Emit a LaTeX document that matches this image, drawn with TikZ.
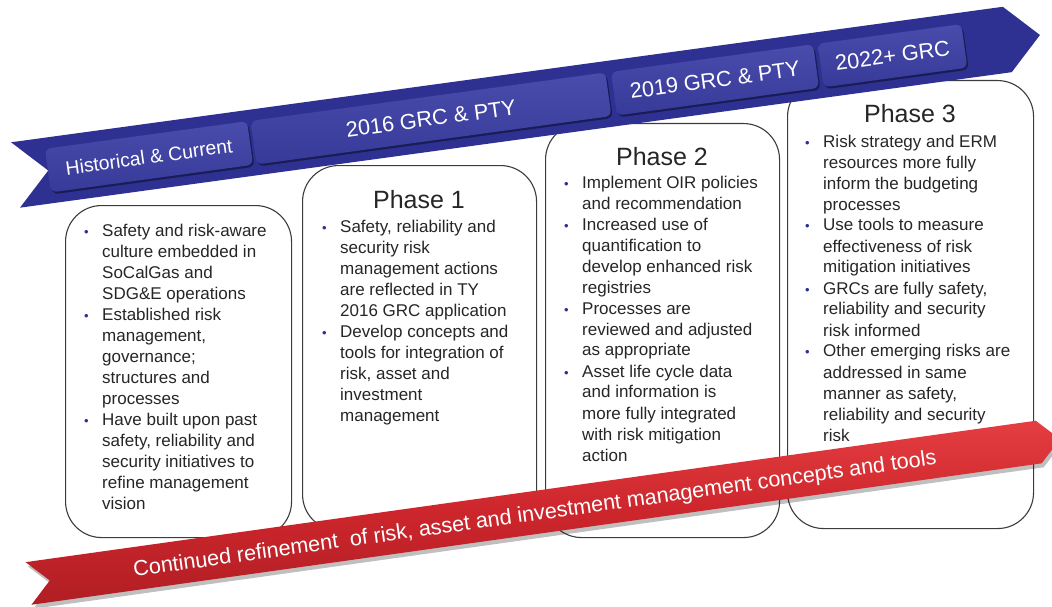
\documentclass[tikz,border=0pt]{standalone}
\usepackage{fontspec}
\setmainfont{Liberation Sans}
\usetikzlibrary{shapes.symbols,shadows}

\definecolor{ribbonblue}{RGB}{46,49,146}
\definecolor{tabblue}{RGB}{56,58,154}
\definecolor{tabtop}{RGB}{74,76,172}
\definecolor{dotblue}{RGB}{46,49,146}
\definecolor{redmid}{RGB}{204,38,44}
\definecolor{redtop}{RGB}{228,62,66}
\definecolor{redbottom}{RGB}{176,30,36}
\definecolor{boxline}{RGB}{60,60,60}
\definecolor{textgray}{RGB}{38,38,38}

% bullet column for the card texts
\NewDocumentCommand{\bul}{}{\makebox[17pt][l]{\hspace{-1pt}\textcolor{dotblue}{\fontsize{13}{13}\selectfont\textbullet}}}

\begin{document}
\begin{tikzpicture}[x=1pt,y=-1pt,
    card/.style={draw=boxline,line width=1.1pt,fill=white,rounded corners=36pt,anchor=north west,inner sep=0pt},
    cardhead/.style={anchor=base,inner sep=0pt,text=textgray,font=\fontsize{25}{30}\selectfont},
    cardtext/.style={anchor=base west,inner sep=0pt,text=textgray,font=\fontsize{17}{21}\selectfont},
    tab/.style={rounded corners=6pt,top color=tabtop,bottom color=tabblue,text=white,inner sep=0pt,
        minimum height=44pt,rotate=7.78,font=\fontsize{21.7}{26}\selectfont,
        drop shadow={shadow xshift=1.5pt,shadow yshift=-2pt,fill=black!60!ribbonblue,opacity=0.7}},
    band/.style={signal,signal to=east,signal from=west,signal pointer angle=90,inner sep=0pt}]
\useasboundingbox (0,0) rectangle (1052,607);

% phase cards
\node[card,minimum width=226pt,minimum height=332pt] (card0) at (65,205) {};
\node[card,minimum width=234pt,minimum height=365pt] (card1) at (302,165) {};
\node[card,minimum width=234pt,minimum height=414pt] (card2) at (545,123) {};
\node[card,minimum width=246pt,minimum height=448pt] (card3) at (787,80) {};

% timeline ribbon
\node[band,fill=ribbonblue,minimum width=1034pt,minimum height=66pt,rotate=7.78] (timeline) at (527.75,105) {};
\node[tab,minimum width=204pt,font=\fontsize{19.4}{24}\selectfont] (hist) at (149,156.8) {Historical \& Current};
\node[tab,minimum width=358pt] (grc16) at (431,118.5) {2016 GRC \& PTY};
\node[tab,minimum width=204pt] (grc19) at (715,79.9) {2019 GRC \& PTY};
\node[tab,minimum width=145pt] (grc22) at (892.5,55.7) {2022+ GRC};

% card texts
\node[cardtext] (text0) at (85,236) {\begin{tabular}[t]{@{}l@{}l@{}}
\bul & Safety and risk-aware\\ & culture embedded in\\ & SoCalGas and\\ & SDG\&E operations\\
\bul & Established risk\\ & management,\\ & governance;\\ & structures and\\ & processes\\
\bul & Have built upon past\\ & safety, reliability and\\ & security initiatives to\\ & refine management\\ & vision
\end{tabular}};

\node[cardhead] (head1) at (419,208) {Phase 1};
\node[cardtext] (text1) at (323,232) {\begin{tabular}[t]{@{}l@{}l@{}}
\bul & Safety, reliability and\\ & security risk\\ & management actions\\ & are reflected in TY\\ & 2016 GRC application\\
\bul & Develop concepts and\\ & tools for integration of\\ & risk, asset and\\ & investment\\ & management
\end{tabular}};

\node[cardhead] (head2) at (662,165) {Phase 2};
\node[cardtext] (text2) at (565,188) {\begin{tabular}[t]{@{}l@{}l@{}}
\bul & Implement OIR policies\\ & and recommendation\\
\bul & Increased use of\\ & quantification to\\ & develop enhanced risk\\ & registries\\
\bul & Processes are\\ & reviewed and adjusted\\ & as appropriate\\
\bul & Asset life cycle data\\ & and information is\\ & more fully integrated\\ & with risk mitigation\\ & action
\end{tabular}};

\node[cardhead] (head3) at (910,123) {Phase 3};
\node[cardtext] (text3) at (806,147) {\begin{tabular}[t]{@{}l@{}l@{}}
\bul & Risk strategy and ERM\\ & resources more fully\\ & inform the budgeting\\ & processes\\
\bul & Use tools to measure\\ & effectiveness of risk\\ & mitigation initiatives\\
\bul & GRCs are fully safety,\\ & reliability and security\\ & risk informed\\
\bul & Other emerging risks are\\ & addressed in same\\ & manner as safety,\\ & reliability and security\\ & risk
\end{tabular}};

% refinement ribbon
\node[band,minimum width=1041.6pt,minimum height=43pt,rotate=7.97,
    top color=redtop,bottom color=redbottom,middle color=redmid,
    drop shadow={shadow xshift=2pt,shadow yshift=-4pt,fill=black,opacity=0.25}] (refine) at (544.25,511.25) {};
\node[text=white,rotate=7.97,inner sep=0pt,font=\fontsize{21.6}{26}\selectfont] (refinetext) at (535,515)
    {Continued refinement\ \ of risk, asset and investment management concepts and tools};
\end{tikzpicture}
\end{document}
